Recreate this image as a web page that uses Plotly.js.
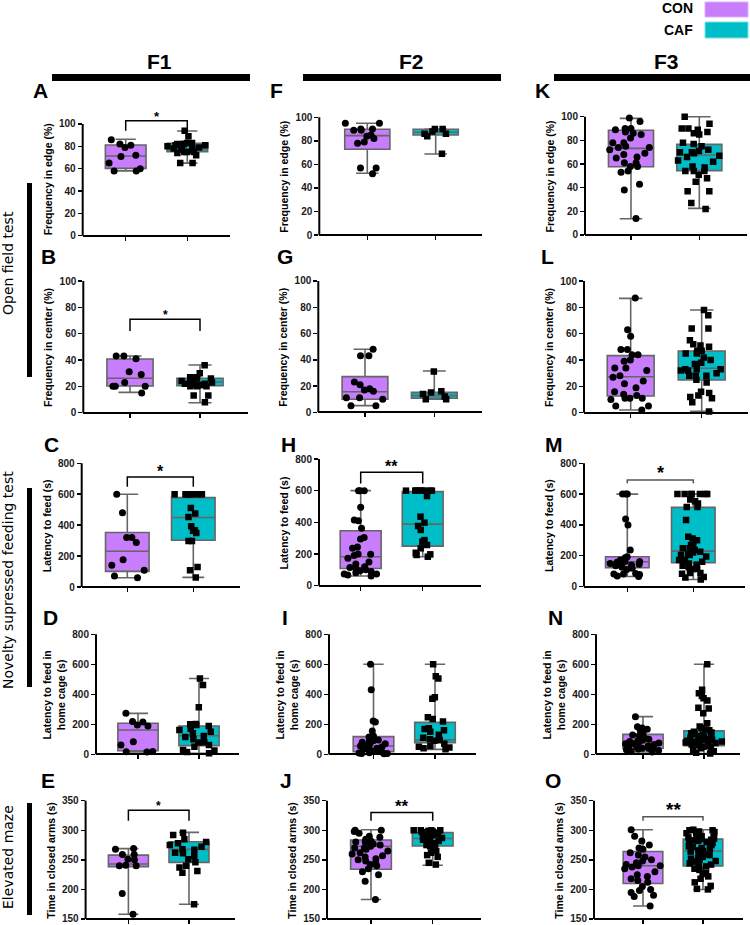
<!DOCTYPE html>
<html><head><meta charset="utf-8">
<script src="https://cdn.plot.ly/plotly-3.0.1.min.js"></script>
<style>html,body{margin:0;padding:0;background:#fff}#chart{width:750px;height:925px}</style>
</head><body><div id="chart"></div>
<script>
// ---------------- DATA ----------------
const groups = ['CON', 'CAF'];
const columns = ['F1', 'F2', 'F3'];
const tests = ['Open field test', 'Novelty supressed feeding test', 'Elevated maze'];

// box stats: [min, q1, median, q3, max]
// Row 1: Frequency in edge (%)
const A_con = [86, 82, 81, 79, 72, 71, 65, 60, 58, 58];
const A_caf = [94, 89, 83, 83, 82, 82, 82, 81, 81, 80, 79, 79, 78, 78, 77, 76, 75, 75, 75, 74, 72, 65, 65];
const A_con_box = [58, 60.3, 71.3, 81.2, 86.3];
const A_caf_box = [65, 75.2, 77.3, 82.7, 93.7];

const F_con = [95, 95, 90, 90, 89, 89, 85, 84, 82, 79, 78, 57, 57, 52];
const F_caf = [90, 90, 88, 86, 86, 84, 69];
const F_con_box = [52.4, 72.8, 84.4, 89.8, 94.9];
const F_caf_box = [68.8, 85, 87.3, 89.8, 90];

const K_con = [99, 96, 90, 90, 89, 87, 86, 85, 82, 78, 78, 75, 74, 74, 72, 69, 68, 66, 65, 61, 61, 58, 58, 54, 53, 43, 38, 14];
const K_caf = [100, 94, 90, 90, 89, 87, 86, 85, 78, 77, 75, 72, 71, 70, 70, 69, 67, 66, 63, 62, 58, 57, 54, 54, 54, 51, 48, 45, 37, 37, 27, 22];
const K_con_box = [13.8, 57.7, 73.2, 88.5, 98.6];
const K_caf_box = [22.5, 54.4, 67.6, 76.6, 100];

// Row 2: Frequency in center (%)
const B_con = [43, 43, 41, 31, 29, 23, 20, 20, 20, 15];
const B_caf = [36, 30, 27, 27, 26, 26, 25, 24, 23, 23, 22, 22, 21, 21, 21, 20, 20, 20, 13, 13, 8];
const B_con_box = [15.4, 20.3, 26.1, 40.8, 43];
const B_caf_box = [7.6, 20.5, 23.3, 26.1, 36.2];

const G_con = [48, 43, 43, 23, 21, 18, 17, 16, 11, 11, 10, 5, 5];
const G_caf = [31, 16, 15, 14, 12, 10, 10];
const G_con_box = [5.1, 9.9, 15.7, 27.2, 48];
const G_caf_box = [9.9, 10.7, 12.7, 15.2, 31.5];

const L_con = [87, 63, 58, 48, 48, 44, 44, 40, 39, 34, 34, 32, 28, 27, 24, 22, 19, 16, 14, 13, 11, 11, 11, 10, 5, 5, 2];
const L_caf = [78, 74, 64, 64, 55, 52, 51, 50, 47, 47, 45, 45, 42, 40, 38, 37, 33, 33, 33, 32, 32, 30, 28, 28, 28, 25, 23, 16, 15, 13, 12, 11, 8, 1];
const L_con_box = [2, 12.7, 27.3, 43.3, 86.8];
const L_caf_box = [1, 24.8, 33.7, 46.8, 78];

// Row 3: Latency to feed (s)
const C_con = [600, 480, 320, 320, 287, 177, 140, 108, 71, 60];
const C_caf = [600, 600, 600, 600, 600, 600, 600, 600, 511, 475, 453, 393, 367, 363, 350, 298, 298, 130, 108, 62];
const C_con_box = [60, 101, 231, 352, 600];
const C_caf_box = [62, 302, 449, 578, 600];

const H_con = [600, 600, 600, 495, 415, 410, 362, 305, 295, 245, 236, 200, 198, 190, 173, 150, 137, 120, 115, 110, 100, 95, 90, 82, 74, 74, 67, 61];
const H_caf = [600, 600, 600, 600, 600, 600, 600, 600, 600, 566, 436, 398, 377, 352, 288, 278, 257, 236, 208, 198, 194, 183];
const H_con_box = [61, 109, 183, 347, 600];
const H_caf_box = [183, 250, 389, 594, 600];

const M_con = [600, 600, 600, 438, 400, 237, 193, 186, 172, 162, 162, 157, 150, 145, 145, 140, 134, 125, 118, 111, 85, 81, 81, 78, 68, 65];
const M_caf = [600, 600, 600, 600, 600, 600, 600, 565, 553, 539, 517, 517, 432, 323, 312, 300, 269, 269, 248, 248, 237, 226, 220, 209, 205, 205, 194, 172, 172, 161, 150, 142, 134, 125, 114, 114, 88, 88, 82, 61, 59, 45];
const M_con_box = [65, 122, 161, 193, 600];
const M_caf_box = [45, 155, 230, 514, 600];

// Row 4: Latency to feed in home cage (s)
const D_con = [273, 218, 215, 196, 189, 84, 62, 18, 17, 15];
const D_caf = [505, 462, 313, 202, 200, 196, 189, 170, 162, 150, 140, 122, 115, 100, 80, 78, 62, 51, 29, 25, 15, 7];
const D_con_box = [15, 24, 162, 207, 273];
const D_caf_box = [7, 58, 124, 189, 505];

const I_con = [600, 430, 222, 215, 156, 122, 115, 107, 100, 96, 90, 85, 80, 75, 70, 60, 55, 50, 45, 40, 35, 30, 25, 20, 15, 10, 8, 5, 5, 3];
const I_caf = [600, 520, 505, 380, 370, 247, 236, 218, 173, 169, 160, 150, 130, 110, 100, 95, 90, 70, 56, 50, 45, 40, 33];
const I_con_box = [3, 18, 55, 118, 600];
const I_caf_box = [33, 78, 96, 213, 600];

const N_con = [250, 184, 175, 167, 160, 140, 129, 125, 110, 100, 95, 90, 85, 80, 75, 72, 70, 65, 60, 55, 50, 45, 40, 40, 38, 35, 30, 25, 20, 15];
const N_caf = [600, 430, 407, 389, 373, 358, 311, 305, 273, 207, 185, 175, 165, 160, 150, 145, 140, 135, 130, 125, 120, 115, 110, 105, 100, 98, 95, 92, 90, 88, 85, 80, 78, 75, 72, 70, 65, 60, 55, 50, 45, 40, 30, 20, 10, 5];
const N_con_box = [15, 40, 73, 133, 251];
const N_caf_box = [5, 58, 91, 156, 600];

// Row 5: Time in closed arms (s)
const E_con = [269, 268, 259, 259, 251, 250, 241, 240, 240, 193, 158];
const E_caf = [296, 292, 285, 280, 278, 275, 272, 268, 267, 262, 261, 257, 251, 246, 240, 237, 231, 228, 175];
const E_con_box = [158, 238.5, 243, 258, 269];
const E_caf_box = [175, 245.8, 267.7, 280.7, 296.5];

const J_con = [300, 300, 298, 295, 290, 288, 285, 282, 280, 280, 277, 275, 273, 270, 270, 268, 265, 262, 260, 257, 255, 252, 250, 248, 245, 242, 240, 235, 230, 225, 214, 183];
const J_caf = [300, 300, 300, 300, 299, 298, 297, 295, 295, 293, 292, 290, 289, 288, 287, 285, 284, 282, 280, 278, 275, 273, 270, 268, 265, 262, 258, 255, 245, 242];
const J_con_box = [183, 234, 273, 283.5, 301];
const J_caf_box = [241, 273.4, 286, 296, 301];

const O_con = [301, 290, 282, 275, 270, 268, 262, 258, 255, 250, 248, 245, 242, 240, 240, 238, 235, 230, 225, 222, 218, 215, 212, 205, 200, 198, 195, 190, 188, 172];
const O_caf = [301, 300, 300, 298, 297, 295, 295, 292, 290, 289, 288, 286, 285, 284, 283, 282, 280, 279, 278, 275, 273, 272, 270, 269, 266, 265, 264, 262, 260, 258, 255, 254, 252, 250, 248, 247, 244, 242, 240, 239, 235, 233, 228, 226, 222, 218, 212, 206, 201, 200];
const O_con_box = [172, 210, 240, 264, 301];
const O_caf_box = [200, 239.6, 265, 285, 301];

const ticks100 = [0, 20, 40, 60, 80, 100];
const ticks800 = [0, 200, 400, 600, 800];
const ticks350 = [150, 200, 250, 300, 350];

// ---------------- LAYOUT SPEC (pixel geometry of each panel) ----------------
const T1 = 'Frequency in edge (%)', T2 = 'Frequency in center (%)', T3 = 'Latency to feed (s)',
      T4 = 'Latency to feed in<br>home cage (s)', T5 = 'Time in closed arms (s)';
const panels = [
  {L:'A', con:A_con, caf:A_caf, cb:A_con_box, fb:A_caf_box, t:T1, tk:ticks100, g:[82.7,230,125.7,187.3,124,235.7], lp:[40,90], br:[103,94,94,'*',13,'#000']},
  {L:'F', con:F_con, caf:F_caf, cb:F_con_box, fb:F_caf_box, t:T1, tk:ticks100, g:[319.3,481.7,367.3,435.7,117.3,235], lp:[276,90]},
  {L:'K', con:K_con, caf:K_caf, cb:K_con_box, fb:K_caf_box, t:T1, tk:ticks100, g:[585,746.7,631,699.3,116.7,235], lp:[542,90]},
  {L:'B', con:B_con, caf:B_caf, cb:B_con_box, fb:B_caf_box, t:T2, tk:ticks100, g:[83.3,248,130,200,281,412.7], lp:[48,256], br:[71,62,62,'*',12,'#000']},
  {L:'G', con:G_con, caf:G_caf, cb:G_con_box, fb:G_caf_box, t:T2, tk:ticks100, g:[318.3,481.7,365,434.3,281,412.3], lp:[285,256]},
  {L:'L', con:L_con, caf:L_caf, cb:L_con_box, fb:L_caf_box, t:T2, tk:ticks100, g:[584,748,630.7,701.7,281,412.7], lp:[547,256]},
  {L:'C', con:C_con, caf:C_caf, cb:C_con_box, fb:C_caf_box, t:T3, tk:ticks800, g:[81.7,240,127.3,193.3,463.3,587], lp:[51,444], br:[712,648,648,'*',16,'#000']},
  {L:'H', con:H_con, caf:H_caf, cb:H_con_box, fb:H_caf_box, t:T3, tk:ticks800, g:[319,481,360.7,422.7,459,585.7], lp:[288,444], br:[716,646,646,'**',16,'#000']},
  {L:'M', con:M_con, caf:M_caf, cb:M_con_box, fb:M_caf_box, t:T3, tk:ticks800, g:[584,745,627.3,693.3,463.3,586.5], lp:[554,444], br:[692,670,670,'*',18,'#555']},
  {L:'D', con:D_con, caf:D_caf, cb:D_con_box, fb:D_caf_box, t:T4, tk:ticks800, g:[96,239,138,199,634.3,754.3], lp:[50,617]},
  {L:'I', con:I_con, caf:I_caf, cb:I_con_box, fb:I_caf_box, t:T4, tk:ticks800, g:[329,476,373.5,435,634.3,754.3], lp:[285,617]},
  {L:'N', con:N_con, caf:N_caf, cb:N_con_box, fb:N_caf_box, t:T4, tk:ticks800, g:[596,740,643,704,634.3,754.3], lp:[555,617]},
  {L:'E', con:E_con, caf:E_caf, cb:E_con_box, fb:E_caf_box, t:T5, tk:ticks350, g:[85.6,235,128.4,189,800.7,919], lp:[48,780], br:[334,316,316,'*',12,'#000']},
  {L:'J', con:J_con, caf:J_caf, cb:J_con_box, fb:J_caf_box, t:T5, tk:ticks350, g:[327,481,371,432.7,800.7,919], lp:[286,780], br:[330,316,316,'**',17,'#000']},
  {L:'O', con:O_con, caf:O_caf, cb:O_con_box, fb:O_caf_box, t:T5, tk:ticks350, g:[594,743,643,703,800.7,919], lp:[553,780], br:[323,316,316,'**',19,'#555']}
];

// ---------------- BUILD ----------------
const W = 750, H = 925;
const px = x => x / W, py = y => 1 - y / H;
const FONT = 'Liberation Sans, Arial, sans-serif';
const conColor = '#c77dfc', cafColor = '#00bec8', boxLine = '#666';
const BW = 0.66;

const data = [];
const layout = {
  width: W, height: H, margin: {l: 0, r: 0, t: 0, b: 0},
  paper_bgcolor: '#fff', plot_bgcolor: 'rgba(0,0,0,0)',
  showlegend: false, boxmode: 'overlay',
  font: {family: FONT, color: '#000'},
  shapes: [], annotations: []
};

panels.forEach((p, i) => {
  const s = i === 0 ? '' : String(i + 1);
  const xa = 'x' + s, ya = 'y' + s;
  const [xl, xr, c0, c1, yt, yb] = p.g;
  const vmin = p.tk[0], vmax = p.tk[p.tk.length - 1], span = vmax - vmin;
  const lo = vmin - 0.05 * span;
  let hi = vmax + 0.04 * span;
  if (p.br) hi = Math.max(hi, p.br[0] + 0.03 * span);
  const sc = (yb - yt) / span;
  const dBot = yb + (vmin - lo) * sc, dTop = yt - (hi - vmax) * sc;
  const unit = c1 - c0;

  layout['xaxis' + s] = {
    domain: [px(xl), px(xr)], range: [-(c0 - xl) / unit, 1 + (xr - c1) / unit],
    anchor: 'free', position: py(yb),
    showline: true, linewidth: 2, linecolor: '#000',
    ticks: 'outside', ticklen: 4, tickwidth: 1.5, tickcolor: '#000',
    tickvals: [0, 1], ticktext: ['', ''], showgrid: false, zeroline: false, fixedrange: true
  };
  layout['yaxis' + s] = {
    domain: [py(dBot), py(dTop)], range: [lo, hi], anchor: xa,
    showline: false, ticks: 'outside', ticklen: 4, tickwidth: 1.5, tickcolor: '#000',
    tickvals: p.tk, ticktext: p.tk.map(String),
    tickfont: {family: FONT, size: 10, weight: 'bold', color: '#1a1a1a'},
    showgrid: false, zeroline: false, fixedrange: true,
    title: {text: p.t, font: {family: FONT, size: 10.5, weight: 'bold', color: '#000'}, standoff: 4}
  };
  layout.shapes.push({type: 'line', xref: xa + ' domain', yref: ya, x0: 0, x1: 0, y0: vmin, y1: vmax,
    line: {color: '#000', width: 2}});

  [[p.cb, conColor, 0], [p.fb, cafColor, 1]].forEach(([b, col, pos]) => {
    data.push({type: 'box', xaxis: xa, yaxis: ya, x: [pos],
      lowerfence: [b[0]], q1: [b[1]], median: [b[2]], q3: [b[3]], upperfence: [b[4]],
      width: BW, whiskerwidth: 0.5, fillcolor: col, line: {color: boxLine, width: 1.6},
      hoverinfo: 'skip'});
  });
  [[p.con, 'circle', 7, 0], [p.caf, 'square', 6.5, 1]].forEach(([vals, sym, sz, pos]) => {
    data.push({type: 'box', xaxis: xa, yaxis: ya, y: vals, x0: pos, width: BW,
      boxpoints: 'all', jitter: 1, pointpos: 0,
      fillcolor: 'rgba(0,0,0,0)', line: {color: 'rgba(0,0,0,0)', width: 0},
      marker: {symbol: sym, size: sz, color: '#000'}, hoverinfo: 'y'});
  });

  if (p.br) {
    const [top, l0, l1, star, fs, col] = p.br;
    layout.shapes.push({type: 'path', xref: xa, yref: ya,
      path: `M 0,${l0} L 0,${top} L 1,${top} L 1,${l1}`, line: {color: col, width: 1.5}});
    layout.annotations.push({xref: xa, yref: ya, x: 0.5, y: top, text: star, showarrow: false,
      yanchor: 'bottom', yshift: -5, font: {family: FONT, size: fs, color: '#000', weight: 'bold'}});
  }
  layout.annotations.push({xref: 'paper', yref: 'paper', x: px(p.lp[0]), y: py(p.lp[1]), text: p.L,
    showarrow: false, xanchor: 'center', yanchor: 'middle',
    font: {family: FONT, size: 21, weight: 'bold', color: '#000'}});
});

[[159, 52, 250], [411, 303, 501], [666, 554, 752]].forEach(([cx, x0, x1], k) => {
  layout.annotations.push({xref: 'paper', yref: 'paper', x: px(cx), y: py(62), text: columns[k],
    showarrow: false, xanchor: 'center', yanchor: 'middle',
    font: {family: FONT, size: 21, weight: 'bold', color: '#000'}});
  layout.shapes.push({type: 'rect', xref: 'paper', yref: 'paper', x0: px(x0), x1: px(x1), y0: py(81), y1: py(74),
    fillcolor: '#000', line: {width: 0}});
});

[[8, 263, 183, 377], [8, 580, 488, 687], [8, 857, 803, 915]].forEach(([cx, cy, y0, y1], k) => {
  layout.annotations.push({xref: 'paper', yref: 'paper', x: px(cx), y: py(cy), text: tests[k],
    showarrow: false, textangle: -90, xanchor: 'center', yanchor: 'middle',
    font: {family: 'DejaVu Sans, sans-serif', size: 14, color: '#000'}});
  layout.shapes.push({type: 'rect', xref: 'paper', yref: 'paper', x0: px(27), x1: px(32), y0: py(y1), y1: py(y0),
    fillcolor: '#000', line: {width: 0}});
});

[[groups[0], conColor, '#dcb0ff', 2, 17, 8], [groups[1], cafColor, '#7fe0e6', 22, 38, 30]].forEach(([lbl, col, bc, y0, y1, ty]) => {
  layout.shapes.push({type: 'rect', xref: 'paper', yref: 'paper', x0: px(705), x1: px(748), y0: py(y1), y1: py(y0),
    fillcolor: col, line: {color: bc, width: 1}});
  layout.annotations.push({xref: 'paper', yref: 'paper', x: px(695), y: py(ty), text: lbl, showarrow: false,
    xanchor: 'right', yanchor: 'middle', font: {family: FONT, size: 14, weight: 'bold', color: '#000'}});
});

Plotly.newPlot('chart', data, layout, {staticPlot: true, displayModeBar: false});
</script>
</body></html>
